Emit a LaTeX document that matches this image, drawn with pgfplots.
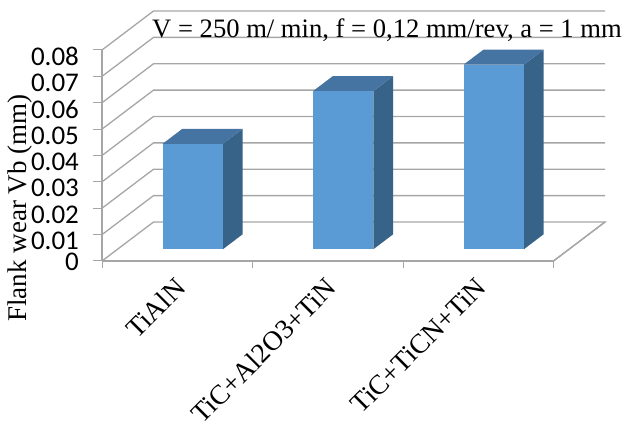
\documentclass[border=0pt]{standalone}
\usepackage{fontspec}
\usepackage{pgfplots}
\pgfplotsset{compat=1.18}
\setmainfont{Liberation Serif}
\newfontfamily\carlito{Carlito}
\definecolor{wall}{HTML}{A6A6A6}
\definecolor{front}{HTML}{5B9BD5}
\definecolor{topf}{HTML}{4674A2}
\definecolor{sidef}{HTML}{386389}
\begin{document}
\begin{tikzpicture}
\useasboundingbox (0,0) rectangle (623pt,425pt);
\begin{axis}[
  at={(102pt,164pt)}, anchor=origin,
  x={(150.5pt,0pt)}, y={(51.5pt,39pt)}, z={(0pt,2637.5pt)},
  xmin=0,xmax=3,ymin=0,ymax=1,zmin=0,zmax=0.08,
  axis lines=left, clip=false,
  axis line style={-,draw=wall,line width=1.3pt},
  tick align=outside,
  xtick={0.5,1.5,2.5},
  xticklabels={TiAlN,TiC+Al2O3+TiN,TiC+TiCN+TiN},
  major x tick style={draw=none},
  ytick=\empty,
  ztick={0,0.01,0.02,0.03,0.04,0.05,0.06,0.07,0.08},
  scaled z ticks=false,
  z tick style={draw=none},
  major tick length=7pt,
  /pgf/number format/assume math mode=true,
  /pgf/number format/fixed,
  /pgf/number format/precision=2,
  zticklabel style={font=\carlito\fontsize{27}{27}\selectfont,xshift=-14pt,yshift=7pt},
  xticklabel style={font=\fontsize{27.5}{27.5}\selectfont,rotate=45,anchor=north east,inner sep=2pt,yshift=-7pt,xshift=-4pt},
]
% walls
\addplot3[no markers,draw=wall,line width=1.3pt] coordinates {(0,0,0)(0,1,0)(3,1,0)(3,0,0)(0,0,0)};
\addplot3[no markers,draw=wall,line width=1.3pt] coordinates {(0,0,0.01)(0,1,0.01)(3,1,0.01)};
\addplot3[no markers,draw=wall,line width=1.3pt] coordinates {(0,0,0.02)(0,1,0.02)(3,1,0.02)};
\addplot3[no markers,draw=wall,line width=1.3pt] coordinates {(0,0,0.03)(0,1,0.03)(3,1,0.03)};
\addplot3[no markers,draw=wall,line width=1.3pt] coordinates {(0,0,0.04)(0,1,0.04)(3,1,0.04)};
\addplot3[no markers,draw=wall,line width=1.3pt] coordinates {(0,0,0.05)(0,1,0.05)(3,1,0.05)};
\addplot3[no markers,draw=wall,line width=1.3pt] coordinates {(0,0,0.06)(0,1,0.06)(3,1,0.06)};
\addplot3[no markers,draw=wall,line width=1.3pt] coordinates {(0,0,0.07)(0,1,0.07)(3,1,0.07)};
\addplot3[no markers,draw=wall,line width=1.3pt] coordinates {(0,0,0.08)(0,1,0.08)(3,1,0.08)};
% tick marks
\addplot3[no markers,draw=wall,line width=1pt] coordinates {(0,0,0)(-0.06,0,0)};
\addplot3[no markers,draw=wall,line width=1pt] coordinates {(0,0,0.01)(-0.06,0,0.01)};
\addplot3[no markers,draw=wall,line width=1pt] coordinates {(0,0,0.02)(-0.06,0,0.02)};
\addplot3[no markers,draw=wall,line width=1pt] coordinates {(0,0,0.03)(-0.06,0,0.03)};
\addplot3[no markers,draw=wall,line width=1pt] coordinates {(0,0,0.04)(-0.06,0,0.04)};
\addplot3[no markers,draw=wall,line width=1pt] coordinates {(0,0,0.05)(-0.06,0,0.05)};
\addplot3[no markers,draw=wall,line width=1pt] coordinates {(0,0,0.06)(-0.06,0,0.06)};
\addplot3[no markers,draw=wall,line width=1pt] coordinates {(0,0,0.07)(-0.06,0,0.07)};
\addplot3[no markers,draw=wall,line width=1pt] coordinates {(0,0,0.08)(-0.06,0,0.08)};
\addplot3[no markers,draw=wall,line width=1pt] coordinates {(0,0,0)(0,0,-0.0025)};
\addplot3[no markers,draw=wall,line width=1pt] coordinates {(1,0,0)(1,0,-0.0025)};
\addplot3[no markers,draw=wall,line width=1pt] coordinates {(2,0,0)(2,0,-0.0025)};
\addplot3[no markers,draw=wall,line width=1pt] coordinates {(3,0,0)(3,0,-0.0025)};
% bar 1: 0.04
\addplot3[no markers,fill=sidef,draw=none] coordinates {(0.7,0.3,0)(0.7,0.685,0)(0.7,0.685,0.04)(0.7,0.3,0.04)} -- cycle;
\addplot3[no markers,fill=topf,draw=none] coordinates {(0.3,0.3,0.04)(0.7,0.3,0.04)(0.7,0.685,0.04)(0.3,0.685,0.04)} -- cycle;
\addplot3[no markers,fill=front,draw=none] coordinates {(0.3,0.3,0)(0.7,0.3,0)(0.7,0.3,0.04)(0.3,0.3,0.04)} -- cycle;
% bar 2: 0.06
\addplot3[no markers,fill=sidef,draw=none] coordinates {(1.7,0.3,0)(1.7,0.685,0)(1.7,0.685,0.06)(1.7,0.3,0.06)} -- cycle;
\addplot3[no markers,fill=topf,draw=none] coordinates {(1.3,0.3,0.06)(1.7,0.3,0.06)(1.7,0.685,0.06)(1.3,0.685,0.06)} -- cycle;
\addplot3[no markers,fill=front,draw=none] coordinates {(1.3,0.3,0)(1.7,0.3,0)(1.7,0.3,0.06)(1.3,0.3,0.06)} -- cycle;
% bar 3: 0.07
\addplot3[no markers,fill=sidef,draw=none] coordinates {(2.7,0.3,0)(2.7,0.685,0)(2.7,0.685,0.07)(2.7,0.3,0.07)} -- cycle;
\addplot3[no markers,fill=topf,draw=none] coordinates {(2.3,0.3,0.07)(2.7,0.3,0.07)(2.7,0.685,0.07)(2.3,0.685,0.07)} -- cycle;
\addplot3[no markers,fill=front,draw=none] coordinates {(2.3,0.3,0)(2.7,0.3,0)(2.7,0.3,0.07)(2.3,0.3,0.07)} -- cycle;
\end{axis}
\node[anchor=west,inner sep=0pt,font=\fontsize{26.6}{26.6}\selectfont] at (152pt,395pt) {V = 250 m/ min, f = 0,12 mm/rev, a = 1 mm};
\node[rotate=90,inner sep=0pt,font=\fontsize{27}{27}\selectfont] at (20pt,217pt) {Flank wear Vb (mm)};
\end{tikzpicture}
\end{document}
